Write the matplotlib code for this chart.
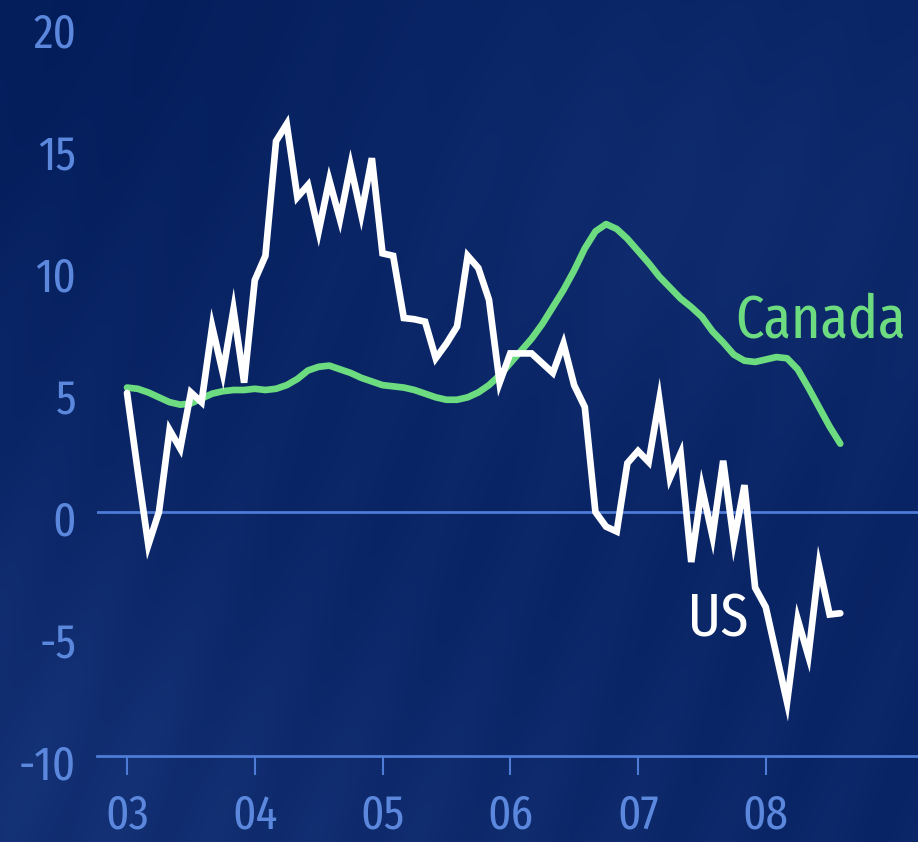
import numpy as np
import matplotlib.pyplot as plt
from matplotlib.transforms import ScaledTranslation

# monthly series, Jan 2003 .. Aug 2008
years = ['03', '04', '05', '06', '07', '08']

us = [4.88, 1.7, -1.35, 0.0, 3.36, 2.6, 4.9, 4.5, 7.6, 5.7, 8.3, 5.3,
      9.5, 10.5, 15.2, 15.9, 12.9, 13.4, 11.5, 13.6, 12.0, 14.2, 12.2, 14.5,
      10.6, 10.5, 7.95, 7.9, 7.8, 6.3, 6.9, 7.6, 10.5, 10.0, 8.7, 5.3,
      6.5, 6.5, 6.5, 6.1, 5.7, 6.9, 5.2, 4.3, 0.0, -0.6, -0.8, 2.0,
      2.5, 2.05, 4.6, 1.4, 2.4, -2.05, 1.0, -1.0, 2.1, -1.2, 1.1, -3.1,
      -3.9, -5.85, -7.8, -4.4, -5.9, -2.2, -4.2, -4.15]

canada = [5.1, 5.05, 4.9, 4.7, 4.5, 4.4, 4.45, 4.65, 4.85, 4.95, 5.0, 5.0,
          5.05, 5.0, 5.05, 5.2, 5.45, 5.8, 5.95, 6.0, 5.85, 5.7, 5.5, 5.35,
          5.2, 5.15, 5.1, 5.0, 4.85, 4.7, 4.6, 4.6, 4.7, 4.9, 5.2, 5.6,
          6.1, 6.6, 7.1, 7.7, 8.4, 9.1, 9.9, 10.8, 11.5, 11.8, 11.6, 11.2,
          10.7, 10.2, 9.65, 9.2, 8.75, 8.4, 8.0, 7.4, 6.95, 6.45, 6.2, 6.15,
          6.25, 6.35, 6.3, 5.85, 5.1, 4.3, 3.5, 2.8]

months = np.arange(len(us))

axis_blue = '#4d7bd6'
label_blue = '#5b88dd'
green = '#6ddc80'
plt.rcParams['font.family'] = ['Fira Sans Extra Condensed', 'Barlow Condensed',
                               'Fira Sans Condensed', 'DejaVu Sans']
plt.rcParams['font.weight'] = 'normal'

fig = plt.figure(figsize=(9.18, 8.42), dpi=100)

# navy backdrop with soft diagonal streaks
bg = fig.add_axes([0, 0, 1, 1], zorder=-10)
h, w = 421, 459
yy, xx = np.mgrid[0:h, 0:w] / np.array([h, w])[:, None, None]
base = np.array([0.035, 0.140, 0.390])
light = np.array([0.120, 0.245, 0.530])
k = 0.35 * np.exp(-((xx - 0.0) ** 2 / 0.08 + (yy - 0.9) ** 2 / 0.10))
k += 0.25 * np.exp(-((xx - 0.75) ** 2 / 0.10 + (yy - 0.25) ** 2 / 0.06))
k += 0.20 * np.exp(-((xx - 0.45) ** 2 / 0.12 + (yy - 1.0) ** 2 / 0.05))
k -= 0.25 * np.exp(-((xx) ** 2 / 0.15 + (yy) ** 2 / 0.10))
streak = 0.5 + 0.5 * np.sin(2 * np.pi * (xx * 9 + yy * 3.2))
k += 0.10 * streak * (0.4 + yy)
k = np.clip(k, -0.3, 1)
img = base[None, None, :] + k[..., None] * (light - base)[None, None, :]
bg.imshow(np.clip(img, 0, 1), aspect='auto', extent=[0, 1, 0, 1],
          interpolation='bicubic')
bg.axis('off')

ax = fig.add_axes([97 / 918, 86 / 842, 1 - 97 / 918, 732 / 842])
ax.patch.set_alpha(0)
ax.set_xlim(-2.82, 74.3)
ax.set_ylim(-10, 20)

ax.axhline(0, color=axis_blue, lw=2, zorder=1)
ax.plot(months, canada, color=green, lw=4.8, solid_capstyle='round',
        solid_joinstyle='round', zorder=3)
ax.plot(months, us, color='white', lw=4.8, solid_capstyle='round',
        solid_joinstyle='miter', zorder=4)

ax.text(57.1, 7.17, 'Canada', color=green, fontsize=44, va='baseline')
ax.text(52.7, -5.12, 'US', color='white', fontsize=44, va='baseline')

for s in ['top', 'right', 'left']:
    ax.spines[s].set_visible(False)
ax.spines['bottom'].set_color(axis_blue)
ax.spines['bottom'].set_linewidth(2)

ax.set_xticks(np.arange(0, 72, 12))
ax.set_xticklabels(years)
ax.set_yticks([-10, -5, 0, 5, 10, 15, 20])
ax.set_yticklabels(['-10', '-5', '0', '5', '10', '15', '20'])
ax.tick_params(axis='x', colors=axis_blue, length=14, width=1.5,
               direction='out', pad=12, labelsize=35, labelcolor=label_blue)
ax.tick_params(axis='y', length=0, pad=15, labelsize=35,
               labelcolor=label_blue)

off = ScaledTranslation(0, -5 / 100, fig.dpi_scale_trans)
for lab in ax.get_yticklabels():
    lab.set_transform(lab.get_transform() + off)

fig.savefig('out.png', dpi=100)
